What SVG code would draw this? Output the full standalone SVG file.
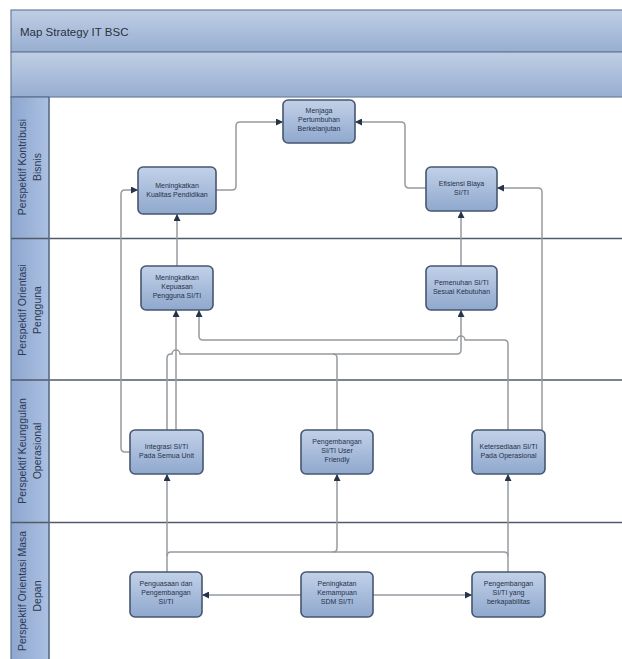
<svg xmlns="http://www.w3.org/2000/svg" width="622" height="659" viewBox="0 0 622 659">
<defs>
<linearGradient id="bar" x1="0" y1="0" x2="0" y2="1"><stop offset="0" stop-color="#bfcee4"/><stop offset="1" stop-color="#97aed1"/></linearGradient>
<linearGradient id="col" x1="0" y1="0" x2="1" y2="0"><stop offset="0" stop-color="#8ea7cf"/><stop offset="1" stop-color="#abc0e2"/></linearGradient>
<linearGradient id="nd" x1="0" y1="0" x2="0" y2="1"><stop offset="0" stop-color="#c2d1e9"/><stop offset="1" stop-color="#8fa8cd"/></linearGradient>
<marker id="ar" markerWidth="7" markerHeight="7" refX="7" refY="3.5" orient="auto" markerUnits="userSpaceOnUse"><path d="M0,0 L7,3.5 L0,7 z" fill="#25344a"/></marker>
</defs>
<style>
.node rect{fill:url(#nd);stroke:#46566f;stroke-width:1.6}
.node text{font-family:"Liberation Sans",Arial,sans-serif;font-size:7px;fill:#263248;text-anchor:middle}
.lane{fill:none;stroke:#4f5a6b;stroke-width:1.6}
.lbl{font-family:"Liberation Sans",Arial,sans-serif;font-size:10.5px;fill:#2c3a55;text-anchor:middle}
#connectors path{fill:none;stroke:#969a9f;stroke-width:1.5}
</style>
<rect x="0" y="0" width="622" height="659" fill="#ffffff"/>
<g id="frame">
<rect x="11" y="10" width="615" height="42" fill="url(#bar)" stroke="#6b7d99" stroke-width="1.2"/>
<rect x="11" y="52" width="615" height="45" fill="url(#bar)" stroke="#6b7d99" stroke-width="1.2"/>
<text x="20" y="36" font-family="'Liberation Sans',Arial,sans-serif" font-size="11.5" fill="#2a3144">Map Strategy IT BSC</text>
<rect x="11" y="97" width="38" height="565" fill="url(#col)" stroke="#5d6f8e" stroke-width="1.2"/>
<line class="lane" x1="11" y1="238.5" x2="626" y2="238.5"/>
<line class="lane" x1="11" y1="380" x2="626" y2="380"/>
<line class="lane" x1="11" y1="522.5" x2="626" y2="522.5"/>
<line x1="49" y1="97" x2="49" y2="659" stroke="#5d6f8e" stroke-width="1.2"/>
<text class="lbl" transform="translate(26,167) rotate(-90)">Perspektif Kontribusi</text>
<text class="lbl" transform="translate(41,167) rotate(-90)">Bisnis</text>
<text class="lbl" transform="translate(26,310) rotate(-90)">Perspektif Orientasi</text>
<text class="lbl" transform="translate(41,310) rotate(-90)">Pengguna</text>
<text class="lbl" transform="translate(26,451) rotate(-90)">Perspektif Keunggulan</text>
<text class="lbl" transform="translate(41,451) rotate(-90)">Operasional</text>
<text class="lbl" transform="translate(26,591) rotate(-90)">Perspektif Orientasi Masa</text>
<text class="lbl" transform="translate(41,596) rotate(-90)">Depan</text>
</g>
<g id="connectors">
<path d="M216,190 H232 Q236,190 236,186 V126 Q236,122 240,122 H283" marker-end="url(#ar)"/>
<path d="M426,188 H409 Q405,188 405,184 V126 Q405,122 401,122 H355" marker-end="url(#ar)"/>
<path d="M177,266 V214" marker-end="url(#ar)"/>
<path d="M461,266 V211" marker-end="url(#ar)"/>
<path d="M130,452 H125 Q121,452 121,448 V194 Q121,190 125,190 H138" marker-end="url(#ar)"/>
<path d="M176,430 V310" marker-end="url(#ar)"/>
<path d="M167,430 V358 Q167,354 171,354 H172 A4,4 0 0 1 180,354 H457 Q461,354 461,350 V310" marker-end="url(#ar)"/>
<path d="M337,430 V358 Q337,354 333,354"/>
<path d="M508,430 V344 Q508,340 504,340 H465 A4,4 0 0 0 457,340 H203 Q199,340 199,336 V310" marker-end="url(#ar)"/>
<path d="M542,430 V192 Q542,188 538,188 H497" marker-end="url(#ar)"/>
<path d="M167,572 V474" marker-end="url(#ar)"/>
<path d="M167,556 Q167,552 171,552 H504 Q508,552 508,556"/>
<path d="M333,552 Q337,552 337,548 V474" marker-end="url(#ar)"/>
<path d="M508,572 V474" marker-end="url(#ar)"/>
<path d="M301,595 H202" marker-end="url(#ar)"/>
<path d="M373,595 H472" marker-end="url(#ar)"/>
</g>
<g id="n1" class="node"><rect x="283" y="100" width="72" height="43" rx="5"/><text x="319" y="113">Menjaga</text><text x="319" y="122">Pertumbuhan</text><text x="319" y="131">Berkelanjutan</text></g>
<g id="n2" class="node"><rect x="138" y="167" width="78" height="47" rx="5"/><text x="177" y="188">Meningkatkan</text><text x="177" y="197">Kualitas Pendidikan</text></g>
<g id="n3" class="node"><rect x="426" y="167" width="71" height="44" rx="5"/><text x="461.5" y="186">Efisiensi Biaya</text><text x="461.5" y="195">SI/TI</text></g>
<g id="n4" class="node"><rect x="141" y="266" width="72" height="44" rx="5"/><text x="177" y="280">Meningkatkan</text><text x="177" y="289">Kepuasan</text><text x="177" y="298">Pengguna SI/TI</text></g>
<g id="n5" class="node"><rect x="426" y="266" width="71" height="44" rx="5"/><text x="461.5" y="285">Pemenuhan SI/TI</text><text x="461.5" y="294">Sesuai Kebutuhan</text></g>
<g id="n6" class="node"><rect x="130" y="430" width="73" height="44" rx="5"/><text x="166.5" y="449">Integrasi SI/TI</text><text x="166.5" y="458">Pada Semua Unit</text></g>
<g id="n7" class="node"><rect x="301" y="430" width="72" height="44" rx="5"/><text x="337" y="444">Pengembangan</text><text x="337" y="453">SI/TI User</text><text x="337" y="462">Friendly</text></g>
<g id="n8" class="node"><rect x="472" y="430" width="73" height="44" rx="5"/><text x="508.5" y="449">Ketersediaan SI/TI</text><text x="508.5" y="458">Pada Operasional</text></g>
<g id="n9" class="node"><rect x="130" y="572" width="72" height="45" rx="5"/><text x="166" y="586">Penguasaan dan</text><text x="166" y="595">Pengembangan</text><text x="166" y="604">SI/TI</text></g>
<g id="n10" class="node"><rect x="301" y="572" width="72" height="45" rx="5"/><text x="337" y="586">Peningkatan</text><text x="337" y="595">Kemampuan</text><text x="337" y="604">SDM SI/TI</text></g>
<g id="n11" class="node"><rect x="472" y="572" width="73" height="45" rx="5"/><text x="508.5" y="586">Pengembangan</text><text x="508.5" y="595">SI/TI yang</text><text x="508.5" y="604">berkapabilitas</text></g>
</svg>
